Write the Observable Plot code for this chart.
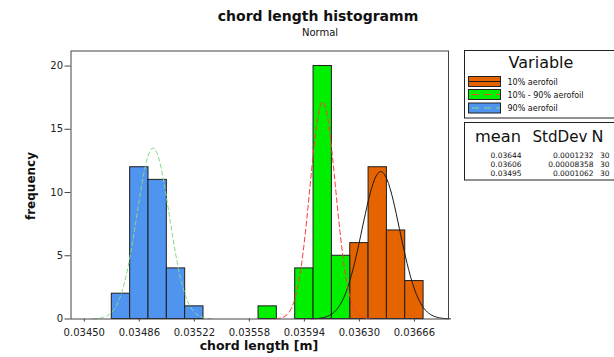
<!DOCTYPE html>
<html>
<head>
<meta charset="utf-8">
<script src="https://cdn.jsdelivr.net/npm/d3@7"></script>
<script src="https://cdn.jsdelivr.net/npm/@observablehq/plot@0.6"></script>
<style>
  html, body { margin: 0; padding: 0; background: #fff; overflow: hidden; }
  #wrap { position: relative; width: 614px; height: 357px; }
  #wrap > svg { position: absolute; left: 0; top: 0; }
</style>
</head>
<body>
<div id="wrap"></div>
<script>
// ---- data ----
const seriesNames = ["10% aerofoil", "10% - 90% aerofoil", "90% aerofoil"];
const seriesColors = ["#e56400", "#00f000", "#4f94ef"];
const curveColors = ["#1a1a1a", "#ff3b3b", "#86d986"];
const curveDash = [null, "5,3", "4,3"];

const binWidth = 0.00012;
const orangeCenters = [0.03618, 0.03630, 0.03642, 0.03654, 0.03666];
const orangeCounts = [2, 6, 12, 7, 3];
const greenCenters = [0.03570, 0.03594, 0.03606, 0.03618];
const greenCounts = [1, 4, 20, 5];
const blueCenters = [0.03474, 0.03486, 0.03498, 0.03510, 0.03522];
const blueCounts = [2, 12, 11, 4, 1];

const means = [0.03644, 0.03606, 0.03495];
const stdDevs = [0.0001232, 0.00008358, 0.0001062];
const counts = [30, 30, 30];
const meanLabels = ["0.03644", "0.03606", "0.03495"];
const sdLabels = ["0.0001232", "0.00008358", "0.0001062"];

const xTicks = [0.03450, 0.03486, 0.03522, 0.03558, 0.03594, 0.03630, 0.03666];
const yTicks = [0, 5, 10, 15, 20];

// ---- build tables ----
const bars = [
  [orangeCenters, orangeCounts, 0],
  [greenCenters, greenCounts, 1],
  [blueCenters, blueCounts, 2]
].flatMap(([cs, ns, s]) => cs.map((c, i) => ({c, n: ns[i], s})));

function fitted(s) {
  const m = means[s], sd = stdDevs[s], N = counts[s];
  const pts = [];
  const K = 90;
  for (let k = 0; k <= K; k++) {
    const x = m - 3.7 * sd + (7.4 * sd) * k / K;
    const z = (x - m) / sd;
    pts.push({x, y: N * binWidth / (sd * Math.sqrt(2 * Math.PI)) * Math.exp(-0.5 * z * z)});
  }
  return pts;
}

const W = 614, H = 357;
const mL = 70.5, mT = 50.5, mB = 38.5, mR = 166;

const chart = Plot.plot({
  width: W, height: H,
  marginLeft: mL, marginTop: mT, marginBottom: mB, marginRight: mR,
  style: {fontFamily: "DejaVu Sans, sans-serif", fontSize: "10px", color: "#222", background: "transparent"},
  x: {domain: [0.034413, 0.036883], label: null},
  y: {domain: [0, 21.19], label: null},
  marks: [
    ...[0, 1, 2].map(s => Plot.rectY(bars.filter(d => d.s === s), {
      x1: d => d.c - binWidth / 2, x2: d => d.c + binWidth / 2, y: "n",
      fill: seriesColors[s], stroke: "#1e1e1e", strokeWidth: 1
    })),
    ...[0, 1, 2].map(s => Plot.line(fitted(s), {
      x: "x", y: "y", stroke: curveColors[s], strokeWidth: 1,
      strokeDasharray: curveDash[s] || undefined
    })),
    Plot.frame({stroke: "#444"}),
    Plot.axisX({ticks: xTicks, tickFormat: d => d.toFixed(5), tickSize: 3, tickPadding: 7, stroke: "#444"}),
    Plot.axisY({ticks: yTicks, tickSize: 6, tickPadding: 2, stroke: "#444"})
  ]
});
document.getElementById("wrap").appendChild(chart);

// ---- overlay texts and legends ----
const svg = d3.select("#wrap").append("svg").attr("width", W).attr("height", H)
  .style("font-family", "DejaVu Sans, sans-serif").style("fill", "#111");

svg.append("text").attr("x", 318).attr("y", 21).attr("text-anchor", "middle")
  .style("font-size", "14px").style("font-weight", "bold").text("chord length histogramm");
svg.append("text").attr("x", 320).attr("y", 35.5).attr("text-anchor", "middle")
  .style("font-size", "10px").text("Normal");
svg.append("text").attr("x", 259).attr("y", 350).attr("text-anchor", "middle")
  .style("font-size", "12.5px").style("font-weight", "bold").text("chord length [m]");
svg.append("text").attr("transform", "translate(35,186) rotate(-90)").attr("text-anchor", "middle")
  .style("font-size", "12px").style("font-weight", "bold").text("frequency");

// legend box 1
svg.append("rect").attr("x", 464.5).attr("y", 50.5).attr("width", 170).attr("height", 67.5)
  .attr("fill", "none").attr("stroke", "#222");
svg.append("text").attr("x", 541).attr("y", 68).attr("text-anchor", "middle")
  .style("font-size", "16px").text("Variable");
const swY = [76.5, 89.5, 103];
seriesNames.forEach((name, s) => {
  const y = swY[s];
  svg.append("rect").attr("x", 468.5).attr("y", y).attr("width", 32).attr("height", 10)
    .attr("fill", seriesColors[s]).attr("stroke", "#222");
  svg.append("line").attr("x1", 469).attr("x2", 500).attr("y1", y + 5).attr("y2", y + 5)
    .attr("stroke", curveColors[s]).attr("stroke-dasharray", curveDash[s] ? "7,5" : null)
    .attr("stroke-dashoffset", curveDash[s] ? -3 : null);
  svg.append("text").attr("x", 507.5).attr("y", y + 8).style("font-size", "8px").text(name);
});

// legend box 2
svg.append("rect").attr("x", 464.5).attr("y", 122.5).attr("width", 170).attr("height", 57.5)
  .attr("fill", "none").attr("stroke", "#222");
svg.append("text").attr("x", 475).attr("y", 141.5).style("font-size", "16px")
  .attr("textLength", 46).attr("lengthAdjust", "spacingAndGlyphs").text("mean");
svg.append("text").attr("x", 532.5).attr("y", 141.5).style("font-size", "16px")
  .attr("textLength", 55).attr("lengthAdjust", "spacingAndGlyphs").text("StdDev");
svg.append("text").attr("x", 591.5).attr("y", 141.5).style("font-size", "16px").text("N");
const rowY = [157.5, 166.5, 175.5];
rowY.forEach((y, i) => {
  svg.append("text").attr("x", 521.5).attr("y", y).attr("text-anchor", "end").style("font-size", "7.5px").text(meanLabels[i]);
  svg.append("text").attr("x", 593.5).attr("y", y).attr("text-anchor", "end").style("font-size", "7.5px").text(sdLabels[i]);
  svg.append("text").attr("x", 600).attr("y", y).style("font-size", "7.5px").text(String(counts[i]));
});
</script>
</body>
</html>
